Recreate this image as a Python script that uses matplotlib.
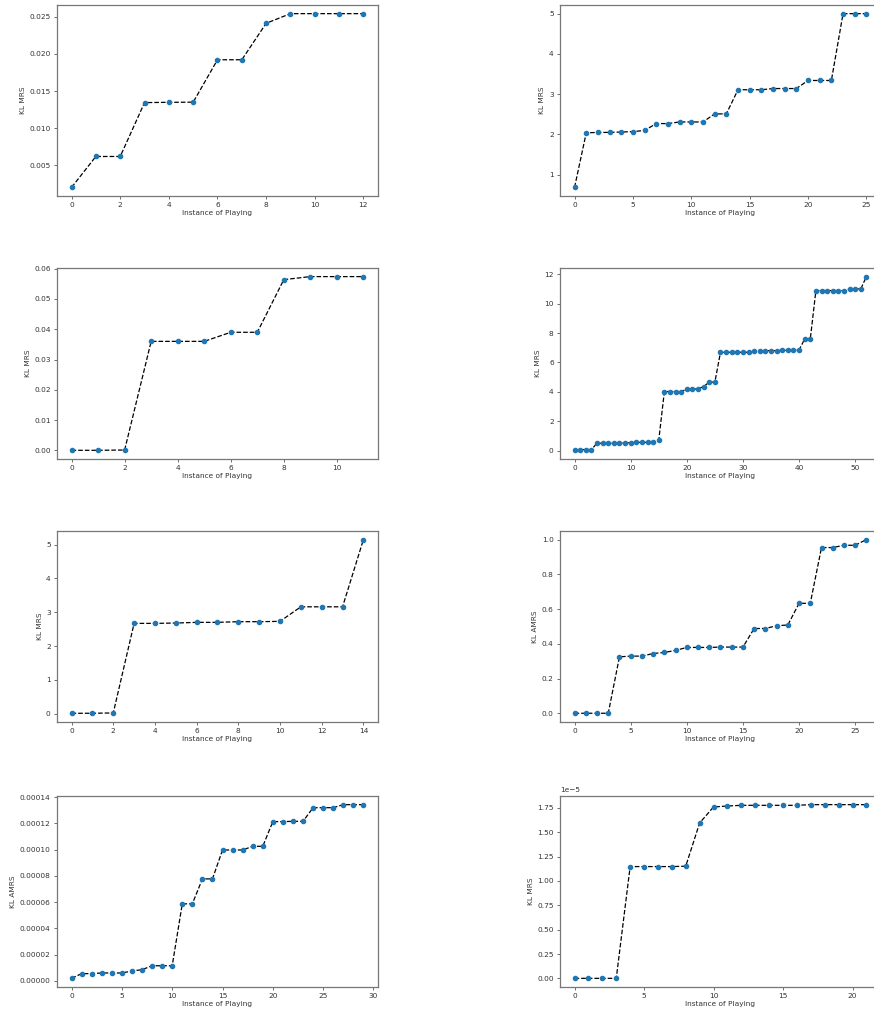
import numpy as np
import matplotlib
matplotlib.use("Agg")
import matplotlib.pyplot as plt

# values
kl_1 = [0.00205, 0.0062, 0.0062, 0.01344, 0.01348, 0.0135, 0.0192, 0.0192, 0.0241,
        0.0254, 0.0254, 0.0254, 0.0254]
kl_2 = [0.686, 2.04, 2.05, 2.05, 2.06, 2.07, 2.10, 2.27, 2.27, 2.31, 2.31, 2.31, 2.51,
        2.51, 3.11, 3.11, 3.11, 3.14, 3.14, 3.14, 3.34, 3.34, 3.34, 5.0, 5.0, 5.0]
kl_3 = [0.0, 0.0, 0.0001, 0.036, 0.036, 0.036, 0.039, 0.039, 0.0564, 0.0574, 0.0574, 0.0574]
kl_4 = [0.02, 0.07, 0.07, 0.07, 0.50, 0.50, 0.50, 0.50, 0.52, 0.52, 0.54, 0.56, 0.56,
        0.56, 0.56, 0.70, 4.02, 4.02, 4.02, 4.02, 4.18, 4.18, 4.20, 4.36, 4.66, 4.66,
        6.69, 6.69, 6.69, 6.69, 6.69, 6.69, 6.80, 6.80, 6.80, 6.80, 6.80, 6.82, 6.82,
        6.82, 6.85, 7.59, 7.59, 10.89, 10.89, 10.89, 10.89, 10.89, 10.89, 11.0, 11.0,
        11.0, 11.84]
kl_5 = [0.01, 0.01, 0.02, 2.67, 2.67, 2.68, 2.70, 2.70, 2.72, 2.72, 2.73, 3.16, 3.16,
        3.16, 5.15]
kl_6 = [0.0, 0.0, 0.0, 0.0, 0.325, 0.329, 0.329, 0.344, 0.350, 0.362, 0.379, 0.379,
        0.379, 0.381, 0.381, 0.381, 0.488, 0.488, 0.504, 0.508, 0.633, 0.633, 0.954,
        0.954, 0.967, 0.967, 1.0]
kl_7 = [0.2e-5, 0.56e-5, 0.56e-5, 0.61e-5, 0.61e-5, 0.61e-5, 0.76e-5, 0.86e-5, 1.16e-5,
        1.16e-5, 1.16e-5, 5.87e-5, 5.87e-5, 7.77e-5, 7.77e-5, 9.97e-5, 9.97e-5, 9.97e-5,
        10.25e-5, 10.25e-5, 12.13e-5, 12.13e-5, 12.15e-5, 12.15e-5, 13.19e-5, 13.19e-5,
        13.19e-5, 13.42e-5, 13.42e-5, 13.42e-5]
kl_8 = [0.0, 0.0, 0.0, 0.0, 1.148e-5, 1.148e-5, 1.148e-5, 1.148e-5, 1.152e-5, 1.596e-5,
        1.760e-5, 1.770e-5, 1.777e-5, 1.777e-5, 1.777e-5, 1.777e-5, 1.777e-5, 1.784e-5,
        1.784e-5, 1.784e-5, 1.784e-5, 1.784e-5]

series = [kl_1, kl_2, kl_3, kl_4, kl_5, kl_6, kl_7, kl_8]
ylabels = ["KL MRS", "KL MRS", "KL MRS", "KL MRS", "KL MRS", "KL AMRS", "KL AMRS", "KL MRS"]

fig = plt.figure(figsize=(8.74, 10.11), dpi=100)

lefts = [0.0652, 0.6407]
bottoms = [0.8061, 0.546, 0.2859, 0.0237]
w, h = 0.3673, 0.189
fs = 5.3

for i, y in enumerate(series):
    ax = fig.add_axes([lefts[i % 2], bottoms[i // 2], w, h])
    x = np.arange(len(y))
    ax.plot(x, y, color="black", linestyle="--", linewidth=0.9, zorder=1)
    ax.scatter(x, y, color="#1f77b4", s=9, zorder=2)
    ax.set_xlabel("Instance of Playing", fontsize=fs, color="#333333", labelpad=1.5)
    ax.set_ylabel(ylabels[i], fontsize=fs, color="#333333", labelpad=2.5)
    ax.tick_params(labelsize=fs, labelcolor="#333333", width=0.6, length=2.5, pad=2,
                   color="#555555")
    ax.yaxis.get_offset_text().set_fontsize(fs)
    ax.yaxis.get_offset_text().set_color("#333333")
    for s in ax.spines.values():
        s.set_color("#777777")
        s.set_linewidth(0.9)

fig.savefig("out.png", dpi=100)
